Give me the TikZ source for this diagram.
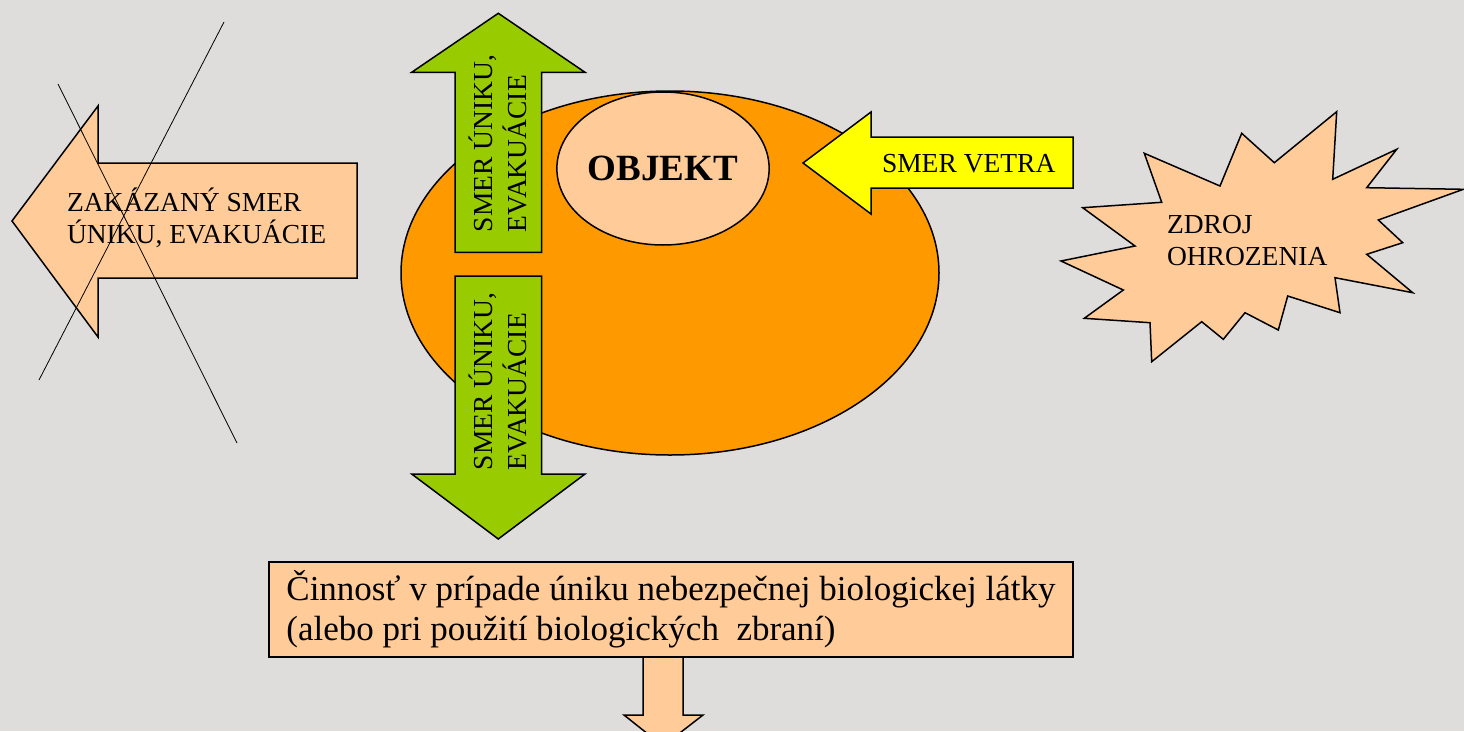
\documentclass[tikz,border=0pt]{standalone}
\usepackage{fontspec}
\setmainfont{Liberation Serif}
\newcommand*{\txtfont}{\fontsize{27.5}{32}\selectfont}
\newcommand*{\arrfont}{\fontsize{27.5}{34}\selectfont}
\newcommand*{\objfont}{\fontsize{37}{40}\selectfont\bfseries}
\newcommand*{\boxfont}{\fontsize{35}{40}\selectfont}
\definecolor{bg}{RGB}{222,221,219}
\definecolor{O}{RGB}{255,153,0}
\definecolor{P}{RGB}{255,204,153}
\definecolor{G}{RGB}{153,204,0}
\definecolor{Y}{RGB}{255,255,0}
\usetikzlibrary{shapes.geometric}
\usetikzlibrary{positioning}
\tikzstyle{base}=[x=1pt, y=-1pt, inner sep=0pt, outer sep=0pt]
\tikzstyle{blok}=[draw=black, line width=1.5pt, line join=miter]
\tikzstyle{txt}=[inner sep=0pt, align=left, font=\txtfont]
\tikzstyle{cross}=[black, line width=0.8pt]

\begin{document}
\begin{tikzpicture}[base]
    \fill [bg] (0,0) rectangle (1464,731);
    \useasboundingbox (0,0) rectangle (1464,731);
    % zakazany smer
        \draw [blok, fill=P] (12,221) -- (98,106) -- (98,163) -- (357,163) -- (357,278) -- (98,278) -- (98,337) -- cycle;
        \node [txt, anchor=west] (zakaz) at (67,218) {ZAKÁZANÝ SMER\\ÚNIKU, EVAKUÁCIE};
        \draw [cross] (224,22) -- (39,380);
        \draw [cross] (58,84) -- (237,443);
    % objekt
        \node [blok, ellipse, fill=O, minimum width=538pt, minimum height=364pt] (okolie) at (670,273) {};
        \node [blok, ellipse, fill=P, minimum width=192pt, minimum height=153pt, font=\objfont] (objekt) at (663,168.5) {OBJEKT};
    % unik hore a dole
        \draw [blok, fill=G] (455,252.3) -- (455,72.3) -- (411.7,72.3) -- (498.3,13.3) -- (585,72.3) -- (541.7,72.3) -- (541.7,252.3) -- cycle;
        \node [txt, font=\arrfont, rotate=90, anchor=west] (hore) at (498,232) {SMER ÚNIKU,\\EVAKUÁCIE};
        \draw [blok, fill=G] (455,276) -- (541.7,276) -- (541.7,474) -- (585,474) -- (498.3,539) -- (411.7,474) -- (455,474) -- cycle;
        \node [txt, font=\arrfont, rotate=90, anchor=west] (dole) at (498,470) {SMER ÚNIKU,\\EVAKUÁCIE};
    % vietor
        \draw [blok, fill=Y] (803,163) -- (871,112) -- (871,137) -- (1073,137) -- (1073,188) -- (871,188) -- (871,214) -- cycle;
        \node [txt, anchor=base west] (vietor) at (882,172) {SMER VETRA};
    % zdroj
        \draw [blok, fill=P] (1336.7,111.7) -- (1332.7,179.3) -- (1396.7,149.3) -- (1366.7,187.7) -- (1463.3,189.3)
            -- (1378.3,220) -- (1402.7,242.7) -- (1366.7,254.3) -- (1412.7,292.7) -- (1335,277.7) -- (1340,312.7)
            -- (1287.7,296) -- (1278.3,330) -- (1245,312.7) -- (1223.3,339.3) -- (1201.7,321.7) -- (1151.7,361.7)
            -- (1150,322.7) -- (1084.3,318.3) -- (1123.3,290) -- (1061,261) -- (1135,246) -- (1082.7,207.7)
            -- (1161.7,202.3) -- (1144.3,153.3) -- (1220,186) -- (1241.7,133.3) -- (1274.3,162.7) -- cycle;
        \node [txt, anchor=west] (zdroj) at (1167,241) {ZDROJ\\OHROZENIA};
    % cinnost
        \node [draw=black, line width=2.5pt, fill=P, minimum width=804pt, minimum height=95pt, align=left, font=\boxfont] (cinnost) at (671,609.5)
            {Činnosť v prípade úniku nebezpečnej biologickej látky\\(alebo pri použití biologických~ zbraní)};
        \draw [blok, fill=P] (643,658) -- (643,715) -- (624,715) -- (663,746) -- (703,715) -- (683,715) -- (683,658);
\end{tikzpicture}
\end{document}
